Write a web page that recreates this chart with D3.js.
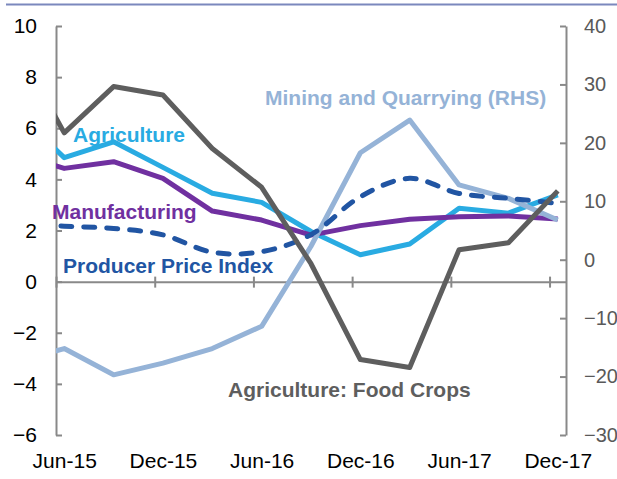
<!DOCTYPE html>
<html><head><meta charset="utf-8">
<script src="https://cdn.jsdelivr.net/npm/d3@7"></script>
<style>body{margin:0;background:#fff;} svg{display:block;}</style>
</head><body><svg id="c" width="617" height="479"></svg>
<script>
// Quarterly data (Mar-15 lies just before the axis start and is clipped)
const categories = ["Mar-15","Jun-15","Sep-15","Dec-15","Mar-16","Jun-16","Sep-16","Dec-16","Mar-17","Jun-17","Sep-17","Dec-17"];
const foodCrops     = [9.3, 5.82, 7.63, 7.3, 5.21, 3.69, 0.7, -3.05, -3.36, 1.25, 1.52, 3.55];
const agriculture   = [6.7, 4.85, 5.47, 4.47, 3.46, 3.1, 1.96, 1.05, 1.47, 2.87, 2.68, 3.39];
const manufacturing = [5.0, 4.43, 4.69, 4.04, 2.76, 2.41, 1.82, 2.19, 2.44, 2.54, 2.57, 2.45];
const ppi           = [2.3, 2.17, 2.08, 1.83, 1.15, 1.17, 1.84, 3.32, 4.04, 3.45, 3.26, 3.06];
const mining        = [-17.7, -15.2, -19.7, -17.7, -15.2, -11.4, 2.3, 18.3, 23.9, 12.8, 10.5, 6.8];
const xTickLabels = ["Jun-15","Dec-15","Jun-16","Dec-16","Jun-17","Dec-17"];
const leftTicks = [-6,-4,-2,0,2,4,6,8,10];
const rightTicks = [-30,-20,-10,0,10,20,30,40];

const FONT = "'Liberation Sans', Arial, sans-serif";
const svg = d3.select("#c");
const L = 56, R = 566, T = 26, B = 435;

const monthNames = ["Jan","Feb","Mar","Apr","May","Jun","Jul","Aug","Sep","Oct","Nov","Dec"];
const mIdx = s => { const [m, y] = s.split("-"); return (2000 + +y - 2015) * 12 + monthNames.indexOf(m) - 5; };

const x = d3.scaleLinear().domain([0, 31]).range([L, R]);
const yL = d3.scaleLinear().domain([-6, 10]).range([B, T]);
const yR = d3.scaleLinear().domain([-30, 40]).range([B, T]);

// top rule
svg.append("line").attr("x1", 6).attr("x2", 617).attr("y1", 4.5).attr("y2", 4.5)
  .attr("stroke", "#7b88bd").attr("stroke-width", 2);

svg.append("clipPath").attr("id", "plot").append("rect")
  .attr("x", L).attr("y", T - 5).attr("width", R - L).attr("height", B - T + 10);

const AX = "#898989";
// left axis
const gl = svg.append("g").attr("transform", `translate(${L},0)`)
  .call(d3.axisLeft(yL).tickValues(leftTicks).tickSizeInner(-6).tickSizeOuter(0).tickPadding(19));
gl.attr("font-size", 21);
gl.selectAll("text").attr("fill", "#000");
// right axis
const gr = svg.append("g").attr("transform", `translate(${R},0)`)
  .call(d3.axisRight(yR).tickValues(rightTicks).tickSizeInner(-6).tickSizeOuter(0).tickPadding(18));
gr.attr("font-size", 20);
gr.selectAll("text").attr("fill", "#595959");
[gl, gr].forEach(g => {
  g.attr("font-family", FONT);
  g.select(".domain").attr("stroke", AX).attr("stroke-width", 2);
  g.selectAll(".tick line").attr("stroke", AX).attr("stroke-width", 2);
});
// x axis at zero
const gx = svg.append("g").attr("transform", `translate(0,${yL(0)})`)
  .call(d3.axisBottom(x).tickValues([0, 6, 12, 18, 24, 30]).tickSizeInner(6).tickSizeOuter(0).tickFormat(""));
gx.select(".domain").attr("stroke", AX).attr("stroke-width", 2);
gx.selectAll(".tick line").attr("stroke", AX).attr("stroke-width", 2).attr("y1", -5);
// bottom labels
const gxl = svg.append("g").attr("transform", `translate(0,453)`)
  .call(d3.axisBottom(x).tickValues(xTickLabels.map(s => mIdx(s) + 0.5))
    .tickFormat((d, i) => xTickLabels[i]).tickSize(0).tickPadding(0));
gxl.select(".domain").remove();
gxl.attr("font-family", FONT).attr("font-size", 21);
gxl.selectAll("text").attr("fill", "#000");

const series = [
  {vals: agriculture, axis: yL, color: "#29abe2"},
  {vals: manufacturing, axis: yL, color: "#7030a0"},
  {vals: mining, axis: yR, color: "#95b3d7"},
  {vals: ppi, axis: yL, color: "#2155a3", dash: "11,12", cap: "round", curve: d3.curveCatmullRom.alpha(0.5)},
  {vals: foodCrops, axis: yL, color: "#5e5e5e"}
];
const gp = svg.append("g").attr("clip-path", "url(#plot)");
series.forEach(s => {
  const line = d3.line()
    .x((d, i) => x(mIdx(categories[i]) + 0.5))
    .y(d => s.axis(d))
    .curve(s.curve || d3.curveLinear);
  gp.append("path").datum(s.vals).attr("d", line)
    .attr("fill", "none").attr("stroke", s.color).attr("stroke-width", 5)
    .attr("stroke-linejoin", "round")
    .attr("stroke-linecap", s.cap || "butt")
    .attr("stroke-dasharray", s.dash || null);
});

const labels = [
  {t: "Mining and Quarrying (RHS)", x: 265, y: 105, c: "#95b3d7"},
  {t: "Agriculture", x: 73, y: 142, c: "#29abe2"},
  {t: "Manufacturing", x: 52, y: 219, c: "#7030a0"},
  {t: "Producer Price Index", x: 63, y: 273, c: "#2155a3"},
  {t: "Agriculture: Food Crops", x: 228, y: 397, c: "#5e5e5e"}
];
svg.append("g").selectAll("text").data(labels).join("text")
  .attr("x", d => d.x).attr("y", d => d.y).attr("fill", d => d.c)
  .attr("font-family", FONT).attr("font-size", 21).attr("font-weight", "bold")
  .text(d => d.t);
</script></body></html>
